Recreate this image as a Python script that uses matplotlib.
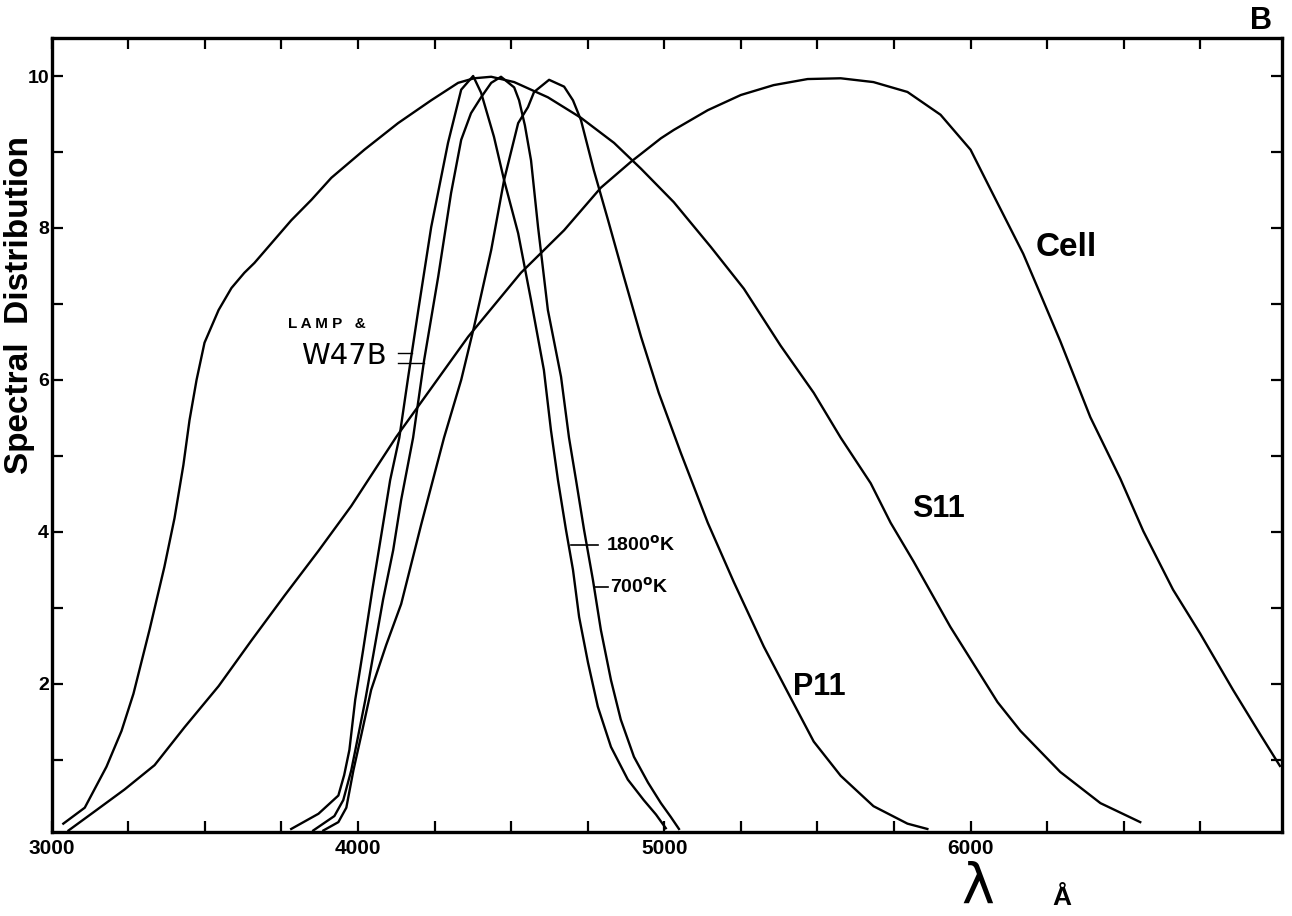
import matplotlib
matplotlib.use("Agg")
import matplotlib.pyplot as plt

# wavelength (Angstrom) / relative response
s11_wl = [3038, 3108, 3179, 3228, 3267, 3320, 3368, 3401, 3430, 3450, 3473, 3499, 3545, 3587,
          3629, 3662, 3782, 3848, 3913, 4021, 4131, 4239, 4327, 4379, 4435, 4510, 4620, 4728,
          4836, 4924, 5031, 5152, 5260, 5380, 5488, 5576, 5674, 5739, 5814, 5934, 6088, 6163,
          6228, 6293, 6424, 6554]
s11_val = [0.16, 0.37, 0.91, 1.38, 1.87, 2.72, 3.54, 4.18, 4.88, 5.47, 6.0, 6.49, 6.92, 7.21,
           7.41, 7.54, 8.1, 8.37, 8.66, 9.03, 9.38, 9.68, 9.91, 9.97, 9.99, 9.92, 9.72, 9.45,
           9.12, 8.78, 8.34, 7.75, 7.2, 6.45, 5.83, 5.24, 4.64, 4.12, 3.61, 2.75, 1.76, 1.38,
           1.11, 0.84, 0.43, 0.18]

cell_wl = [3055, 3140, 3238, 3336, 3434, 3545, 3652, 3760, 3871, 3978, 4125, 4360, 4532, 4673,
           4793, 4891, 4989, 5031, 5142, 5250, 5357, 5468, 5576, 5683, 5794, 5902, 6000, 6065,
           6172, 6228, 6293, 6391, 6489, 6564, 6661, 6750, 6857, 6945, 7010]
cell_val = [0.07, 0.32, 0.61, 0.93, 1.43, 1.97, 2.57, 3.16, 3.75, 4.34, 5.25, 6.57, 7.41, 7.97,
            8.53, 8.87, 9.18, 9.29, 9.55, 9.75, 9.88, 9.96, 9.97, 9.92, 9.79, 9.49, 9.03, 8.51,
            7.66, 7.13, 6.51, 5.51, 4.7, 4.01, 3.24, 2.66, 1.92, 1.34, 0.92]

p11_wl = [3887, 3936, 3962, 3985, 4011, 4043, 4092, 4141, 4206, 4281, 4337, 4379, 4435, 4477,
          4523, 4555, 4575, 4624, 4673, 4702, 4728, 4770, 4816, 4868, 4924, 4982, 5054, 5142,
          5227, 5325, 5403, 5488, 5576, 5683, 5794, 5859]
p11_val = [0.07, 0.18, 0.37, 0.86, 1.33, 1.92, 2.51, 3.05, 4.09, 5.24, 6.0, 6.7, 7.71, 8.63,
           9.38, 9.59, 9.79, 9.95, 9.86, 9.68, 9.42, 8.76, 8.11, 7.36, 6.57, 5.83, 5.04, 4.12,
           3.34, 2.49, 1.89, 1.24, 0.79, 0.39, 0.16, 0.09]

lamp1800_wl = [3782, 3871, 3936, 3955, 3972, 3991, 4017, 4047, 4079, 4105, 4135, 4164, 4197,
               4239, 4294, 4337, 4376, 4402, 4444, 4477, 4523, 4565, 4607, 4630, 4653, 4679,
               4702, 4722, 4751, 4783, 4826, 4881, 4933, 4973, 5005]
lamp1800_val = [0.09, 0.29, 0.53, 0.8, 1.13, 1.79, 2.45, 3.24, 4.03, 4.68, 5.24, 6.04, 6.92,
                8.01, 9.12, 9.82, 10.0, 9.78, 9.2, 8.63, 7.93, 7.05, 6.13, 5.34, 4.68, 4.03,
                3.5, 2.88, 2.28, 1.7, 1.17, 0.74, 0.47, 0.28, 0.1]

lamp700_wl = [3854, 3923, 3952, 3978, 3998, 4024, 4053, 4082, 4115, 4141, 4180, 4216, 4262,
              4304, 4337, 4369, 4402, 4435, 4467, 4510, 4526, 4545, 4565, 4588, 4620, 4663,
              4689, 4712, 4738, 4767, 4793, 4826, 4858, 4901, 4947, 4989, 5021, 5048]
lamp700_val = [0.07, 0.26, 0.47, 0.86, 1.26, 1.79, 2.45, 3.11, 3.76, 4.42, 5.24, 6.26, 7.36,
               8.46, 9.16, 9.51, 9.72, 9.91, 9.99, 9.85, 9.68, 9.35, 8.89, 8.01, 6.92, 6.04,
               5.24, 4.68, 4.03, 3.37, 2.71, 2.05, 1.53, 1.04, 0.7, 0.43, 0.25, 0.09]

x_ticks = [3000 + 250 * i for i in range(16)]
x_ticklabels = {3000: "3000", 4000: "4000", 5000: "5000", 6000: "6000"}
y_ticks = list(range(1, 11))
y_ticklabels = {2: "2", 4: "4", 6: "6", 8: "8", 10: "10"}

plt.rcParams["font.family"] = ["Liberation Sans", "DejaVu Sans"]

fig = plt.figure(figsize=(12.92, 9.16), dpi=100)
ax = fig.add_axes([0.0400, 0.0917, 0.9523, 0.8668])

for wl, val in [(s11_wl, s11_val), (cell_wl, cell_val), (p11_wl, p11_val),
                (lamp1800_wl, lamp1800_val), (lamp700_wl, lamp700_val)]:
    ax.plot(wl, val, color="black", lw=1.7, solid_joinstyle="round")

ax.set_xlim(3000, 7017)
ax.set_ylim(0.05, 10.5)

ax.set_xticks(x_ticks)
ax.set_xticklabels([x_ticklabels.get(t, "") for t in x_ticks], fontsize=15, fontweight="bold")
ax.set_yticks(y_ticks)
ax.set_yticklabels([y_ticklabels.get(t, "") for t in y_ticks], fontsize=14, fontweight="bold")
ax.tick_params(direction="in", length=8, width=1.6, top=True, right=True, pad=5)
ax.tick_params(axis="y", pad=2)
for sp in ax.spines.values():
    sp.set_linewidth(2.4)

# curve labels
ax.text(6212, 7.74, "Cell", fontsize=24, fontweight="bold", va="center")
ax.text(5810, 4.3, "S11", fontsize=22, fontweight="bold", va="center")
ax.text(5419, 1.96, "P11", fontsize=22, fontweight="bold", va="center")

ax.plot([4695, 4783], [3.83, 3.83], color="black", lw=1.2)
ax.text(4810, 3.83, r"1800$^{\mathbf{o}}$K", fontsize=14, fontweight="bold", va="center")
ax.plot([4770, 4816], [3.28, 3.28], color="black", lw=1.2)
ax.text(4823, 3.28, r"700$^{\mathbf{o}}$K", fontsize=14, fontweight="bold", va="center")

ax.text(3773, 6.74, "L A M P   &", fontsize=11, fontweight="bold", va="center")
ax.text(3815, 6.32, "W47B", fontsize=21, va="center", family="DejaVu Sans")
ax.plot([4131, 4176], [6.36, 6.36], color="black", lw=1.0)
ax.plot([4131, 4214], [6.22, 6.22], color="black", lw=1.0)

fig.text(20 / 1292, 1 - 305 / 916, "Spectral  Distribution", rotation=90, fontsize=24,
         fontweight="bold", ha="center", va="center")
fig.text(978 / 1292, 1 - 888 / 916, "λ", fontsize=40, ha="center", va="center",
         family="DejaVu Sans")
fig.text(1062 / 1292, 1 - 898 / 916, "Å", fontsize=19, fontweight="bold", ha="center",
         va="center")
fig.text(1261 / 1292, 1 - 21 / 916, "B", fontsize=22, fontweight="bold", ha="center", va="center")

fig.savefig("out.png", dpi=100, facecolor="white")
